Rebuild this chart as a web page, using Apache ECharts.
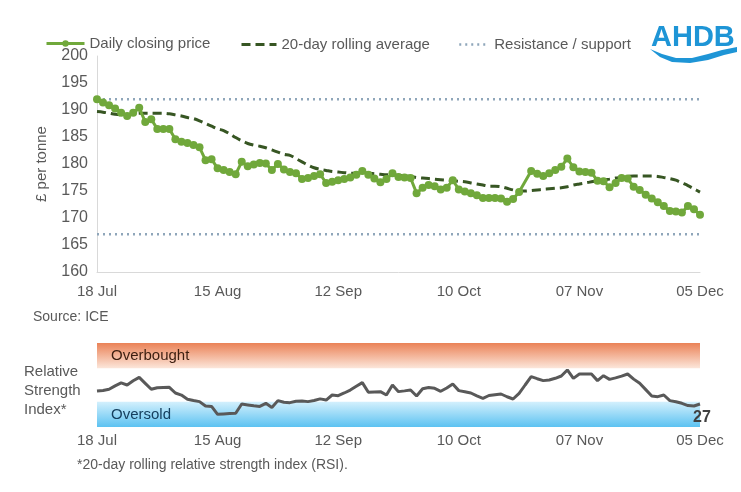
<!DOCTYPE html>
<html>
<head>
<meta charset="utf-8">
<script src="https://cdn.jsdelivr.net/npm/echarts@6/dist/echarts.min.js"></script>
<style>
html,body{margin:0;padding:0;background:#fff;}
#c{width:741px;height:492px;}
</style>
</head>
<body>
<div id="c"></div>
<script>
// ---- data ----
const tickLabels = ['18 Jul','15 Aug','12 Sep','10 Oct','07 Nov','05 Dec'];
const closingPrice = [
192.0,191.4,190.9,190.3,189.5,188.9,189.5,190.4,187.8,188.3,
186.5,186.5,186.5,184.6,184.1,183.9,183.5,183.1,180.7,180.9,
179.2,178.9,178.5,178.1,180.4,179.6,179.9,180.2,180.1,178.9,
180.0,179.0,178.5,178.3,177.2,177.4,177.8,178.1,176.5,176.7,
177.0,177.2,177.5,178.0,178.7,178.0,177.3,176.6,177.2,178.3,
177.6,177.5,177.4,174.6,175.6,176.1,175.9,175.3,175.6,177.0,
175.3,174.9,174.6,174.2,173.7,173.7,173.7,173.6,173.0,173.5,
174.8,null,178.7,178.2,177.8,178.3,178.9,179.5,181.0,179.4,
178.6,178.5,178.4,176.9,176.8,175.7,176.5,177.4,177.3,175.8,
175.2,174.3,173.6,172.9,172.2,171.3,171.2,171.0,172.2,171.6,
170.6];
const rollingAvg = [
189.7,189.6,189.4,189.2,189.1,189.1,189.2,189.4,189.4,189.4,
189.4,189.4,189.3,189.1,188.9,188.6,188.4,188.0,187.5,187.0,
186.5,186.2,185.6,184.9,184.3,183.8,183.5,183.3,183.0,182.6,
182.2,181.8,181.6,181.0,180.4,179.8,179.3,179.0,178.8,178.6,
178.5,178.4,178.3,178.3,178.3,178.3,178.2,178.1,178.0,178.0,
177.9,177.8,177.7,177.5,177.4,177.3,177.2,177.1,177.0,176.9,
176.8,176.7,176.5,176.3,176.1,175.9,175.9,175.8,175.5,175.2,
175.0,175.0,175.1,175.2,175.3,175.4,175.5,175.6,175.8,176.1,
176.3,176.5,176.7,176.9,177.1,177.2,177.4,177.5,177.7,177.8,
177.8,177.8,177.8,177.7,177.5,177.3,177.0,176.5,176.0,175.4,
174.8];
const resistanceLevel = 192;
const supportLevel = 167;
const rsi = [
42.9,43.5,44.9,49.0,52.5,50.0,55.0,59.1,52.0,44.9,
46.8,47.0,47.2,40.5,38.0,33.0,31.5,30.2,25.0,24.5,
15.1,15.6,16.0,16.3,27.4,26.3,25.2,24.5,28.2,23.2,
31.4,29.5,29.0,30.6,31.0,30.2,31.5,33.5,32.1,38.1,
37.3,40.5,44.0,48.5,52.8,41.3,41.7,42.1,38.1,50.0,
42.1,43.0,44.0,36.9,45.5,47.0,46.0,42.5,46.5,51.2,
43.3,42.0,40.5,37.0,34.1,37.5,38.5,39.3,36.0,33.3,
40.0,50.0,59.9,57.5,55.2,56.0,58.0,60.7,67.9,57.9,
63.1,63.1,63.1,55.2,61.1,56.7,58.5,60.5,63.1,57.0,
52.0,44.5,36.9,36.1,38.1,31.4,30.0,28.2,25.5,25.0,
27.4];
const overboughtBand = [70, 100];
const oversoldBand = [0, 30];

// business-day categories starting 18 Jul 2022
const months = ['Jan','Feb','Mar','Apr','May','Jun','Jul','Aug','Sep','Oct','Nov','Dec'];
const categories = [];
{
  const d = new Date(Date.UTC(2022, 6, 18));
  while (categories.length < closingPrice.length) {
    const wd = d.getUTCDay();
    if (wd !== 0 && wd !== 6) {
      categories.push(String(d.getUTCDate()).padStart(2,'0') + ' ' + months[d.getUTCMonth()]);
    }
    d.setUTCDate(d.getUTCDate() + 1);
  }
}
const resistance = closingPrice.map(() => resistanceLevel);
const support = closingPrice.map(() => supportLevel);

const FONT = '"Liberation Sans", Arial, sans-serif';
const TXT = '#595959';
const GREEN = '#70A83B';
const DARKGREEN = '#375623';
const DOT = '#8FA6BA';

function grad(c0, c1) {
  return {type: 'linear', x: 0, y: 0, x2: 0, y2: 1, colorStops: [{offset: 0, color: c0}, {offset: 1, color: c1}]};
}

const chart = echarts.init(document.getElementById('c'));

chart.setOption({
  animation: false,
  textStyle: {fontFamily: FONT},
  legend: [
    {data: ['Daily closing price'], left: 40, top: 31, itemWidth: 38, itemHeight: 8,
     lineStyle: {width: 3},
     textStyle: {color: TXT, fontSize: 15, fontFamily: FONT}},
    {data: ['20-day rolling average'], left: 235, top: 32, itemWidth: 35, itemHeight: 14,
     itemStyle: {opacity: 0}, lineStyle: {width: 3},
     textStyle: {color: TXT, fontSize: 15, fontFamily: FONT}},
    {data: ['Resistance / support'], left: 453, top: 32, itemWidth: 30, itemHeight: 14,
     itemStyle: {opacity: 0}, lineStyle: {width: 2.5},
     textStyle: {color: TXT, fontSize: 15, fontFamily: FONT}}
  ],
  grid: [
    {left: 97, right: 41, top: 56, height: 216},
    {left: 97, right: 41, top: 343, height: 84}
  ],
  xAxis: [
    {type: 'category', gridIndex: 0, data: categories, boundaryGap: false,
     axisLine: {show: true, lineStyle: {color: '#D9D9D9'}}, axisTick: {show: false},
     axisLabel: {interval: 19, color: TXT, fontSize: 15, margin: 12, fontFamily: FONT},
     splitLine: {show: false}},
    {type: 'category', gridIndex: 1, data: categories, boundaryGap: false,
     axisLine: {show: false}, axisTick: {show: false},
     axisLabel: {interval: 19, color: TXT, fontSize: 15, margin: 6, fontFamily: FONT},
     splitLine: {show: false}}
  ],
  yAxis: [
    {type: 'value', gridIndex: 0, min: 160, max: 200, interval: 5,
     name: '£ per tonne', nameLocation: 'middle', nameGap: 48, nameRotate: 90,
     nameTextStyle: {color: TXT, fontSize: 15, fontFamily: FONT},
     axisLine: {show: true, lineStyle: {color: '#D9D9D9'}}, axisTick: {show: false},
     axisLabel: {color: TXT, fontSize: 16, margin: 9, fontFamily: FONT},
     splitLine: {show: false}},
    {type: 'value', gridIndex: 1, min: 0, max: 100, show: false, splitLine: {show: false}}
  ],
  series: [
    {name: 'Resistance / support', type: 'line', xAxisIndex: 0, yAxisIndex: 0, data: resistance,
     symbol: 'none', lineStyle: {color: DOT, width: 2.5, type: [2, 4]}, itemStyle: {color: DOT}, z: 1, silent: true},
    {name: 'Resistance / support', type: 'line', xAxisIndex: 0, yAxisIndex: 0, data: support,
     symbol: 'none', lineStyle: {color: DOT, width: 2.5, type: [2, 4]}, itemStyle: {color: DOT}, z: 1, silent: true},
    {name: '20-day rolling average', type: 'line', xAxisIndex: 0, yAxisIndex: 0, data: rollingAvg,
     symbol: 'none', smooth: 0.3, lineStyle: {color: DARKGREEN, width: 3, type: [9, 5]}, itemStyle: {color: DARKGREEN}, z: 2},
    {name: 'Daily closing price', type: 'line', xAxisIndex: 0, yAxisIndex: 0, data: closingPrice,
     connectNulls: true, symbol: 'circle', symbolSize: 8, showAllSymbol: true,
     lineStyle: {color: GREEN, width: 3}, itemStyle: {color: GREEN}, z: 3},
    {name: 'RSI', type: 'line', xAxisIndex: 1, yAxisIndex: 1, data: rsi,
     symbol: 'none', lineStyle: {color: '#595959', width: 3}, itemStyle: {color: '#595959'}, z: 3,
     endLabel: {show: true, formatter: (p) => String(Math.round(p.value)), offset: [-15, 14],
       fontWeight: 'bold', fontSize: 16, color: '#404040', fontFamily: FONT},
     markArea: {silent: true,
       data: [
         [{yAxis: overboughtBand[0], name: 'Overbought',
           itemStyle: {color: grad('#EA8257', '#FCE6DA')},
           label: {show: true, position: 'insideLeft', distance: 14, color: '#3C1E10', fontSize: 15, fontFamily: FONT}},
          {yAxis: overboughtBand[1]}],
         [{yAxis: oversoldBand[0], name: 'Oversold',
           itemStyle: {color: grad('#D3F0FD', '#5CC2F1')},
           label: {show: true, position: 'insideLeft', distance: 14, color: '#16405F', fontSize: 15, fontFamily: FONT}},
          {yAxis: oversoldBand[1]}]
       ]}}
  ],
  graphic: [
    {type: 'text', x: 33, y: 310, style: {text: 'Source: ICE', fill: TXT, font: '14px ' + FONT}},
    {type: 'text', x: 24, y: 362, style: {text: 'Relative\nStrength\nIndex*', fill: TXT, font: '15px ' + FONT, lineHeight: 19}},
    {type: 'text', x: 77, y: 458, style: {text: '*20-day rolling relative strength index (RSI).', fill: TXT, font: '14px ' + FONT}},
    {type: 'text', x: 651, y: 23, style: {text: 'AHDB', fill: '#1E95D6', font: 'bold 29px ' + FONT}},
    {type: 'polygon', shape: {points: [[650,49],[662,54],[676,58],[692,58],[708,54],[722,50],[737,47],[737,52],[724,55],[708,60],[690,63],[672,62],[660,57]]},
     style: {fill: '#1E95D6'}}
  ]
});
</script>
</body>
</html>
